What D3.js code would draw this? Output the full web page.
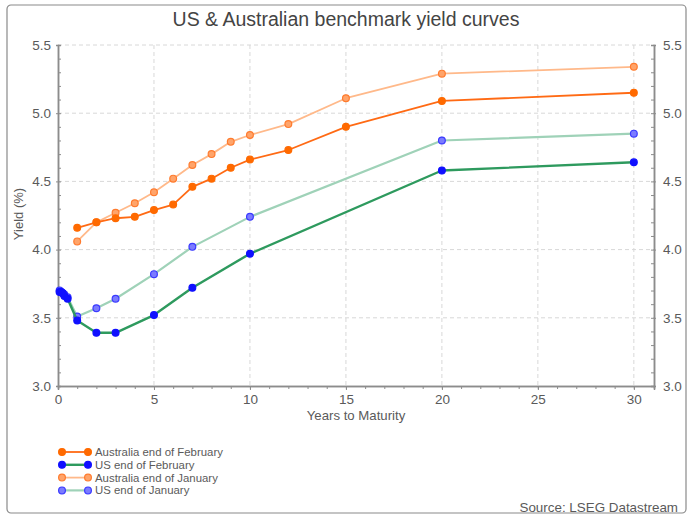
<!DOCTYPE html>
<html>
<head>
<meta charset="utf-8">
<script src="https://cdn.jsdelivr.net/npm/d3@7"></script>
<style>
  html, body { margin: 0; padding: 0; background: #fff; }
  svg { display: block; font-family: "Liberation Sans", Arial, sans-serif; }
</style>
</head>
<body>
<svg id="chart" width="689" height="515"></svg>
<script>
// ---- Data ----
const ausMaturities = [1, 2, 3, 4, 5, 6, 7, 8, 9, 10, 12, 15, 20, 30];
const ausFeb = [4.16, 4.20, 4.23, 4.24, 4.29, 4.33, 4.46, 4.52, 4.60, 4.66, 4.73, 4.90, 5.09, 5.15];
const ausJan = [4.06, 4.20, 4.27, 4.34, 4.42, 4.52, 4.62, 4.70, 4.79, 4.84, 4.92, 5.11, 5.29, 5.34];
const usMaturities = [0.083, 0.167, 0.25, 0.333, 0.5, 1, 2, 3, 5, 7, 10, 20, 30];
const usFeb = [3.69, 3.69, 3.68, 3.66, 3.64, 3.48, 3.39, 3.39, 3.52, 3.72, 3.97, 4.58, 4.64];
const usJan = [3.70, 3.69, 3.68, 3.67, 3.65, 3.51, 3.57, 3.64, 3.82, 4.02, 4.24, 4.80, 4.85];
const xTicks = [0, 5, 10, 15, 20, 25, 30];
const yTicks = [3.0, 3.5, 4.0, 4.5, 5.0, 5.5];
const seriesNames = ["Australia end of February", "US end of February", "Australia end of January", "US end of January"];
const titleText = "US & Australian benchmark yield curves";
const xLabel = "Years to Maturity";
const yLabel = "Yield (%)";
const sourceText = "Source: LSEG Datastream";

(function () {
// ---- Layout ----
const svg = d3.select("#chart");
const pL = 58, pR = 654, pT = 45, pB = 386;
const x = d3.scaleLinear().domain([0, 31.05]).range([pL, pR]);
const y = d3.scaleLinear().domain([3.0, 5.5]).range([pB, pT]);

// frame
svg.append("rect").attr("x", 7).attr("y", 5).attr("width", 679).attr("height", 508)
  .attr("rx", 4).attr("fill", "none").attr("stroke", "#8a8a8a").attr("stroke-width", 1.2);

// title
svg.append("text").attr("x", 346).attr("y", 26).attr("text-anchor", "middle")
  .attr("font-size", 19.5).attr("fill", "#444").text(titleText);

// grid
const grid = svg.append("g");
grid.selectAll("line.h").data(yTicks.filter(d => d > 3.0)).join("line").attr("class", "h")
  .attr("x1", pL).attr("x2", pR).attr("y1", d => y(d)).attr("y2", d => y(d))
  .attr("stroke", "#d8d8d8").attr("stroke-dasharray", "4,3");
grid.selectAll("line.v").data(xTicks.filter(d => d > 0)).join("line").attr("class", "v")
  .attr("x1", d => x(d)).attr("x2", d => x(d)).attr("y1", pT).attr("y2", pB)
  .attr("stroke", "#d8d8d8").attr("stroke-dasharray", "4,3");

const axisColor = "#8c8c8c";
const textColor = "#5a5a5a";

// x axis
const xAxis = svg.append("g").attr("transform", `translate(0,${pB})`)
  .call(d3.axisBottom(x).tickValues(xTicks).tickFormat(d3.format("d")).tickSize(4).tickPadding(4));
const xMinor = svg.append("g").attr("transform", `translate(0,${pB})`)
  .call(d3.axisBottom(x).tickValues(d3.range(0, 31, 1)).tickFormat("").tickSize(3));
// left axis
const yAxisL = svg.append("g").attr("transform", `translate(${pL},0)`)
  .call(d3.axisLeft(y).tickValues(yTicks).tickFormat(d3.format(".1f")).tickSize(2).tickPadding(5));
const yMinorL = svg.append("g").attr("transform", `translate(${pL},0)`)
  .call(d3.axisRight(y).tickValues(d3.range(30, 56, 1).map(d => d / 10)).tickFormat("").tickSize(3));
// right axis
const yAxisR = svg.append("g").attr("transform", `translate(${pR},0)`)
  .call(d3.axisRight(y).tickValues(yTicks).tickFormat(d3.format(".1f")).tickSize(2).tickPadding(7));
const yMinorR = svg.append("g").attr("transform", `translate(${pR},0)`)
  .call(d3.axisLeft(y).tickValues(d3.range(30, 56, 1).map(d => d / 10)).tickFormat("").tickSize(3));

[xAxis, xMinor, yAxisL, yMinorL, yAxisR, yMinorR].forEach(g => {
  g.select(".domain").attr("stroke", axisColor).attr("stroke-width", 1.5);
  g.selectAll(".tick line").attr("stroke", axisColor);
  g.selectAll(".tick text").attr("fill", textColor).attr("font-size", 13.5)
    .attr("font-family", "'Liberation Sans', Arial, sans-serif");
});

// axis labels
svg.append("text").attr("x", 356).attr("y", 420).attr("text-anchor", "middle")
  .attr("font-size", 13.2).attr("fill", textColor).text(xLabel);
svg.append("text").attr("transform", `translate(23,214) rotate(-90)`)
  .attr("text-anchor", "middle").attr("font-size", 13).attr("fill", textColor).text(yLabel);

// series
const series = [
  { name: seriesNames[2], xs: ausMaturities, ys: ausJan, line: "#ffb98a", lw: 1.8, mStroke: "#ff7b2e", mFill: "#ffa46a" },
  { name: seriesNames[3], xs: usMaturities, ys: usJan, line: "#9fd2b8", lw: 2.2, mStroke: "#3a3aff", mFill: "#7b7bff" },
  { name: seriesNames[0], xs: ausMaturities, ys: ausFeb, line: "#ff6a14", lw: 1.8, mStroke: "#ff6a00", mFill: "#ff6a00" },
  { name: seriesNames[1], xs: usMaturities, ys: usFeb, line: "#2e9a5e", lw: 2.4, mStroke: "#1010ff", mFill: "#1010ff" }
];
const line = d3.line().x(d => x(d[0])).y(d => y(d[1]));
series.forEach(s => {
  const pts = s.xs.map((m, i) => [m, s.ys[i]]);
  const g = svg.append("g");
  g.append("path").datum(pts).attr("d", line).attr("fill", "none")
    .attr("stroke", s.line).attr("stroke-width", s.lw).attr("stroke-linejoin", "round");
  g.selectAll("circle").data(pts).join("circle")
    .attr("cx", d => x(d[0])).attr("cy", d => y(d[1])).attr("r", 3.4)
    .attr("fill", s.mFill).attr("stroke", s.mStroke).attr("stroke-width", 1.2);
});

// legend
const legendOrder = [series[2], series[3], series[0], series[1]];
const lg = svg.append("g");
legendOrder.forEach((s, i) => {
  const ly = 452 + i * 12.8;
  lg.append("line").attr("x1", 62).attr("x2", 88).attr("y1", ly).attr("y2", ly)
    .attr("stroke", s.line).attr("stroke-width", s.lw);
  [62, 88].forEach(cx => lg.append("circle").attr("cx", cx).attr("cy", ly).attr("r", 3.4)
    .attr("fill", s.mFill).attr("stroke", s.mStroke).attr("stroke-width", 1.2));
  lg.append("text").attr("x", 95).attr("y", ly + 4).attr("font-size", 11.4)
    .attr("fill", textColor).text(s.name);
});

// source
svg.append("text").attr("x", 678).attr("y", 512).attr("text-anchor", "end")
  .attr("font-size", 13.4).attr("fill", textColor).text(sourceText);
})();
</script>
</body>
</html>
